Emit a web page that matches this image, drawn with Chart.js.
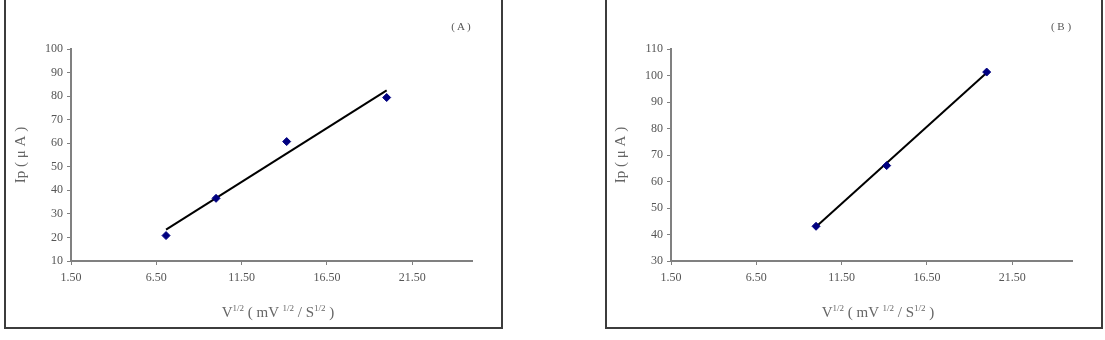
<!DOCTYPE html>
<html>
<head>
<meta charset="utf-8">
<script src="https://cdn.jsdelivr.net/npm/chart.js@4/dist/chart.umd.min.js"></script>
<style>
  html, body { margin: 0; padding: 0; background: #fff; }
  body { position: relative; width: 1105px; height: 340px; overflow: hidden; font-family: 'Liberation Serif', 'Times New Roman', serif; }
  .painel { position: absolute; top: -3px; height: 332px; box-sizing: border-box; border: 2px solid #3c3c3c; }
  .cv { position: absolute; top: 0; width: 494px; height: 326px; }
  .rotulo { position: absolute; top: 20px; font-size: 11px; color: #555; transform: translateX(-50%); white-space: nowrap; }
  .titulo-x { position: absolute; top: 304px; font-size: 15px; color: #666; transform: translateX(-50%); white-space: nowrap; }
  .titulo-x sup { font-size: 9px; vertical-align: 6px; line-height: 0; }
</style>
</head>
<body>
<div class="painel" style="left:4px;width:499px;"></div>
<div class="painel" style="left:605px;width:498px;"></div>
<div class="cv" style="left:6px;"><canvas id="chart-a"></canvas></div>
<div class="cv" style="left:606px;"><canvas id="chart-b"></canvas></div>
<div class="rotulo" style="left:461px;">( A )</div>
<div class="rotulo" style="left:1061px;">( B )</div>
<div class="titulo-x" style="left:278px;">V<sup>1/2</sup> ( mV <sup>1/2</sup> / S<sup>1/2</sup> )</div>
<div class="titulo-x" style="left:878px;">V<sup>1/2</sup> ( mV <sup>1/2</sup> / S<sup>1/2</sup> )</div>
<script>
// ─── dados ───
var xTicks = [1.5, 6.5, 11.5, 16.5, 21.5];

var xA = [7.07, 10.0, 14.14, 20.0];
var yA = [20.8, 36.6, 60.7, 79.4];
var trendXA = [7.07, 20.0];
var trendYA = [23.3, 82.4];
var yTicksA = [10, 20, 30, 40, 50, 60, 70, 80, 90, 100];

var xB = [10.0, 14.14, 20.0];
var yB = [43.1, 66.0, 101.3];
var trendXB = [10.0, 20.0];
var trendYB = [42.9, 101.0];
var yTicksB = [30, 40, 50, 60, 70, 80, 90, 100, 110];

var fonteSerif = "'Liberation Serif', 'Times New Roman', serif";

function pares(xs, ys) {
  return xs.map(function(x, i) { return { x: x, y: ys[i] }; });
}

function montarGrafico(id, xs, ys, tx, ty, yTicks) {
  var ctx = document.getElementById(id).getContext('2d');
  return new Chart(ctx, {
    type: 'scatter',
    data: {
      datasets: [
        { data: pares(xs, ys), pointStyle: 'rectRot', pointRadius: 4, pointBackgroundColor: '#000080', pointBorderColor: '#000080', pointBorderWidth: 1, showLine: false },
        { data: pares(tx, ty), showLine: true, borderColor: '#000', borderWidth: 2, pointRadius: 0, fill: false }
      ]
    },
    options: {
      responsive: true, maintainAspectRatio: false, animation: false,
      layout: { padding: { left: 6, right: 28, top: 49, bottom: 35 } },
      plugins: { legend: { display: false }, tooltip: { enabled: false } },
      scales: {
        x: {
          type: 'linear', min: 1.5, max: 25,
          afterBuildTicks: function(s) { s.ticks = xTicks.map(function(v) { return { value: v }; }); },
          afterFit: function(s) { s.height = 30; },
          border: { display: true, color: '#808080', width: 2 },
          grid: { display: true, drawOnChartArea: false, drawTicks: true, tickLength: 4, color: '#808080', lineWidth: 1 },
          ticks: { color: '#555', padding: 6, maxRotation: 0, font: { family: fonteSerif, size: 12 }, callback: function(v) { return Number(v).toFixed(2); } }
        },
        y: {
          type: 'linear', min: yTicks[0], max: yTicks[yTicks.length - 1],
          afterBuildTicks: function(s) { s.ticks = yTicks.map(function(v) { return { value: v }; }); },
          afterFit: function(s) { s.width = 59; },
          border: { display: true, color: '#808080', width: 2 },
          grid: { display: true, drawOnChartArea: false, drawTicks: true, tickLength: 4, color: '#808080', lineWidth: 1 },
          ticks: { color: '#555', padding: 4, font: { family: fonteSerif, size: 12 } },
          title: { display: true, text: 'Ip ( \u03BC A )', color: '#666', padding: { top: 0, bottom: 0 }, font: { family: fonteSerif, size: 15 } }
        }
      }
    }
  });
}

montarGrafico('chart-a', xA, yA, trendXA, trendYA, yTicksA);
montarGrafico('chart-b', xB, yB, trendXB, trendYB, yTicksB);
</script>
</body>
</html>
